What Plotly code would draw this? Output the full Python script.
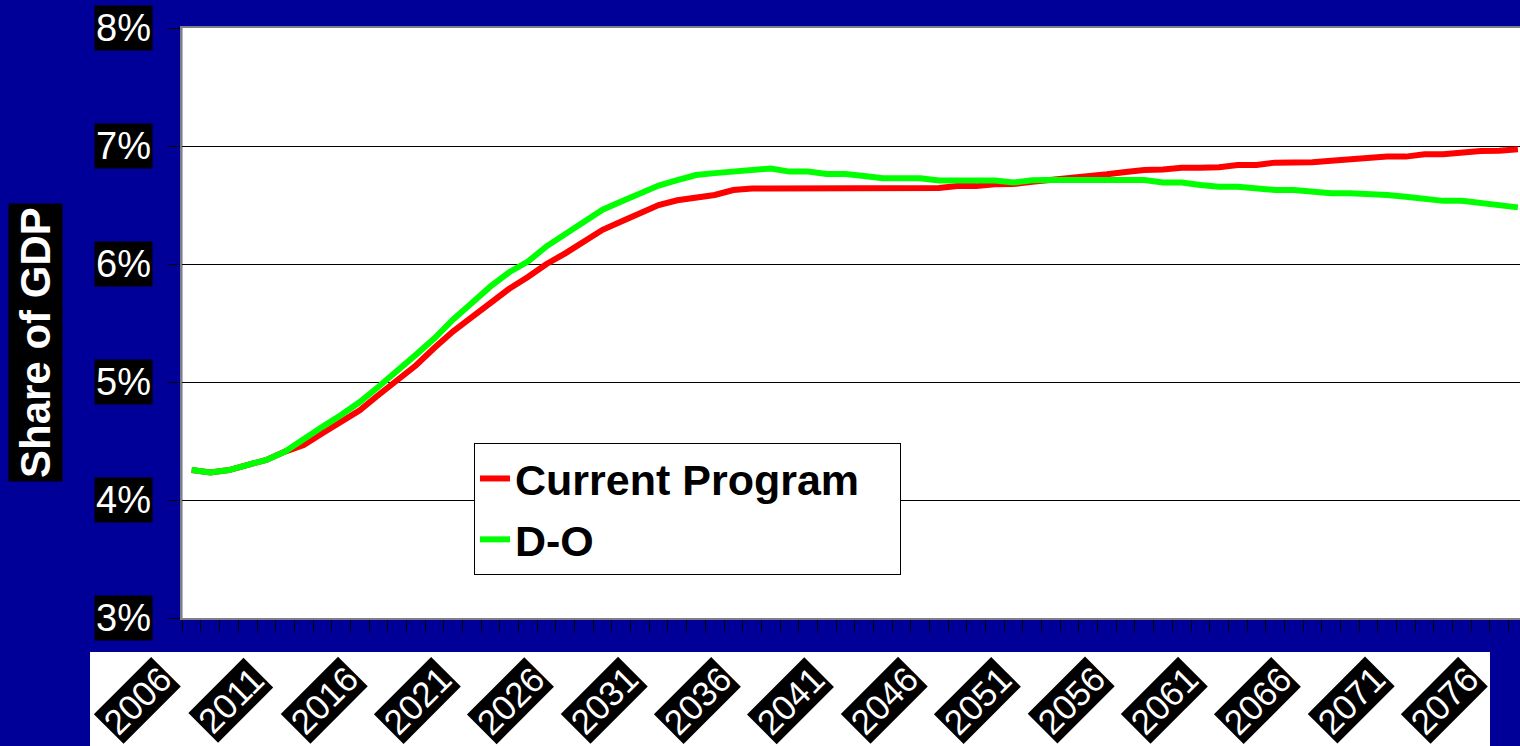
import plotly.graph_objects as go

years = list(range(2006, 2078))

current_program = [
    4.254, 4.234, 4.254, 4.297, 4.34, 4.41, 4.466, 4.565, 4.66, 4.76,
    4.89, 5.01, 5.14, 5.29, 5.43, 5.55, 5.67, 5.79, 5.89, 6.00,
    6.09, 6.19, 6.29, 6.36, 6.43, 6.50, 6.54, 6.565, 6.585, 6.627,
    6.64, 6.64, 6.64, 6.64, 6.64, 6.64, 6.64, 6.64, 6.64, 6.64,
    6.645, 6.66, 6.66, 6.675, 6.678, 6.697, 6.71, 6.726, 6.745, 6.76,
    6.78, 6.797, 6.80, 6.816, 6.816, 6.82, 6.839, 6.84, 6.859, 6.86,
    6.862, 6.875, 6.887, 6.89, 6.91, 6.91, 6.93, 6.93, 6.945, 6.958,
    6.96, 6.972,
]

d_o = [
    4.254, 4.234, 4.254, 4.297, 4.34, 4.41, 4.52, 4.62, 4.72, 4.83,
    4.96, 5.09, 5.23, 5.37, 5.53, 5.67, 5.81, 5.93, 6.02, 6.15,
    6.25, 6.35, 6.46, 6.53, 6.60, 6.665, 6.71, 6.754, 6.77, 6.783,
    6.79, 6.81, 6.783, 6.783, 6.763, 6.763, 6.745, 6.726, 6.726, 6.726,
    6.707, 6.707, 6.707, 6.707, 6.69, 6.71, 6.712, 6.712, 6.712, 6.712,
    6.712, 6.712, 6.69, 6.69, 6.669, 6.655, 6.655, 6.641, 6.627, 6.627,
    6.613, 6.60, 6.60, 6.595, 6.585, 6.57, 6.555, 6.535, 6.535, 6.515,
    6.50, 6.48,
]

label_years = list(range(2006, 2077, 5))
y_ticks = [3, 4, 5, 6, 7, 8]
y_tick_text = ["3%", "4%", "5%", "6%", "7%", "8%"]

FONT = "Liberation Sans, Arial, sans-serif"
W, H = 1520, 746

fig = go.Figure()
fig.add_trace(go.Scatter(x=years, y=current_program, mode="lines",
                         name="<b>Current Program</b>&nbsp;&nbsp;&nbsp;",
                         legendgroup="a",
                         line=dict(color="#FF0000", width=6)))
fig.add_trace(go.Scatter(x=years, y=d_o, mode="lines",
                         name="<b>D-O</b>", legendgroup="b",
                         line=dict(color="#00FF00", width=6)))

annotations = []
for v, t in zip(y_ticks, y_tick_text):
    annotations.append(dict(xref="paper", yref="y", x=153 / W, y=v, text=t,
                            showarrow=False, xanchor="right", yanchor="middle",
                            font=dict(family=FONT, size=38, color="white"),
                            bgcolor="black", borderpad=1))
annotations.append(dict(xref="paper", yref="paper", x=35.5 / W, y=(H - 342.5) / H,
                        text="<b>Share of GDP</b>", textangle=-90, showarrow=False,
                        xanchor="center", yanchor="middle",
                        font=dict(family=FONT, size=42, color="white"),
                        bgcolor="black", borderpad=3))
for yr in label_years:
    annotations.append(dict(xref="x2", yref="y2", x=yr, y=0.489, text=str(yr),
                            textangle=-45, showarrow=False,
                            xanchor="center", yanchor="middle",
                            font=dict(family=FONT, size=35, color="white"),
                            bgcolor="black", borderpad=1))

x_left = 182.3
px_per_year = 18.68
x_range = [2005.5, 2005.5 + (W - x_left) / px_per_year]
boundaries = [y - 0.5 for y in years]

fig.update_layout(
    width=W, height=H,
    margin=dict(l=0, r=0, t=0, b=0),
    paper_bgcolor="#000099",
    plot_bgcolor="white",
    font=dict(family=FONT),
    showlegend=True,
    legend=dict(x=474 / W, y=(H - 443) / H, xanchor="left", yanchor="top",
                bgcolor="white", bordercolor="black", borderwidth=1,
                traceorder="grouped", tracegroupgap=2,
                font=dict(family=FONT, size=43, color="black")),
    xaxis=dict(domain=[x_left / W, 1], range=x_range, showgrid=False,
               zeroline=False, showticklabels=False, tickmode="array",
               tickvals=boundaries, ticks="outside", ticklen=12,
               tickcolor="black", tickwidth=1, showline=True, mirror=True,
               linecolor="#808080", linewidth=2),
    yaxis=dict(domain=[(H - 618) / H, (H - 28) / H], range=[3, 8],
               tickmode="array", tickvals=y_ticks, showticklabels=False,
               ticks="outside", ticklen=12, tickcolor="black", tickwidth=1,
               showgrid=True, gridcolor="black", gridwidth=1, zeroline=False,
               showline=True, linecolor="#808080", linewidth=2),
    xaxis2=dict(domain=[90 / W, 1490 / W], anchor="y2",
                range=[2003.483, 2078.464], visible=False),
    yaxis2=dict(domain=[0, (H - 652) / H], anchor="x2", range=[0, 1],
                visible=False),
    annotations=annotations,
)

fig.write_html("out.html")
